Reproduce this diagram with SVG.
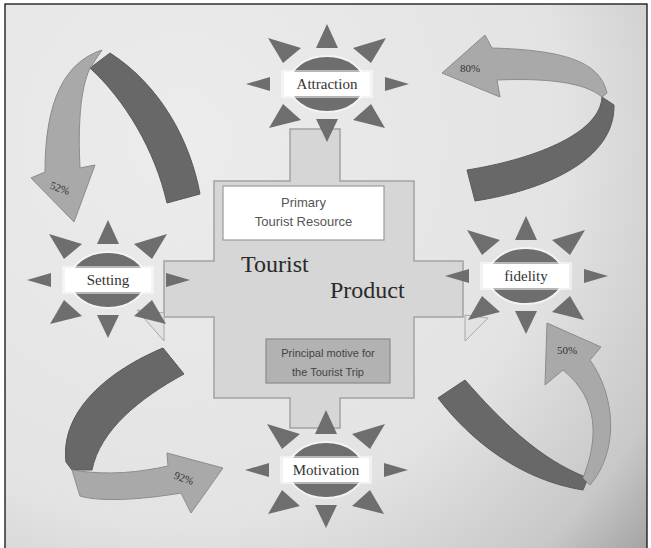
<svg xmlns="http://www.w3.org/2000/svg" xmlns:xlink="http://www.w3.org/1999/xlink" width="651" height="548" viewBox="0 0 651 548">
<style>
.sunlabel{font-family:"Liberation Serif","Times New Roman",serif;font-size:15px;fill:#333;text-anchor:middle}
.pct{font-family:"Liberation Serif","Times New Roman",serif;font-size:11px;fill:#333;text-anchor:middle}
.box{font-family:"Liberation Sans",Arial,sans-serif;text-anchor:middle}
.dark{fill:#686868;stroke:#5a5a5a;stroke-width:1}
.light{fill:#a9a9a9;stroke:#8c8c8c;stroke-width:1}
.big{font-family:"Liberation Serif","Times New Roman",serif;font-size:24px;fill:#2a2a2a}
</style>
<defs>
<radialGradient id="bg" cx="180" cy="140" r="640" gradientUnits="userSpaceOnUse">
<stop offset="0" stop-color="#ececec"/>
<stop offset="0.6" stop-color="#e3e3e3"/>
<stop offset="0.85" stop-color="#c8c8c8"/>
<stop offset="1" stop-color="#9a9a9a"/>
</radialGradient>
<g id="sun">
<g fill="#6e6e6e">
<polygon points="0,-60 -11,-36 11,-36"/>
<polygon points="0,58 -11,35 11,35"/>
<polygon points="-81,0 -57,-7 -57,7"/>
<polygon points="82,0 58,-7 58,7"/>
<polygon points="-59,-46 -26,-36 -44,-21"/>
<polygon points="59,-46 26,-36 44,-21"/>
<polygon points="-58,44 -26,36 -44,20"/>
<polygon points="58,44 26,36 44,20"/>
</g>
<ellipse cx="0" cy="0" rx="38" ry="28" fill="#6e6e6e" stroke="#f4f4f4" stroke-width="2"/>
<rect x="-46" y="-14" width="92" height="28" fill="#ffffff" opacity="0.5"/>
<rect x="-43" y="-12" width="86" height="24" fill="#ffffff"/>
</g>
</defs>
<rect x="0" y="0" width="651" height="548" fill="#ffffff"/>
<rect x="5" y="4" width="642" height="548" fill="url(#bg)" stroke="#111" stroke-width="1.3"/>

<g id="product">
<path d="M290,129 H340 V181 H414 V261 H463 V317 H414 V398 H340 V428 H290 V398 H214 V317 H164 V261 H214 V181 H290 Z" fill="#d6d6d6" stroke="#a2a2a2" stroke-width="1.5"/>
<text class="big" x="241" y="272">Tourist</text>
<text class="big" x="330" y="298">Product</text>
</g>

<g id="primary">
<rect x="223" y="186" width="161" height="54" fill="#ffffff" stroke="#9a9a9a" stroke-width="1.2"/>
<text class="box" x="303.5" y="207" font-size="13" fill="#555">Primary</text>
<text class="box" x="303.5" y="226" font-size="13" fill="#555">Tourist Resource</text>
</g>

<g id="motive">
<rect x="266" y="339" width="124" height="44" fill="#b2b2b2" stroke="#8a8a8a" stroke-width="1.2"/>
<text class="box" x="328" y="357" font-size="11" fill="#444">Principal motive for</text>
<text class="box" x="328" y="376" font-size="11" fill="#444">the Tourist Trip</text>
</g>

<g id="faint">
<polygon points="137,310 164,313 164,341" fill="#e2e2e2" stroke="#a8a8a8" stroke-width="1"/>
<polygon points="465,315 465,341 488,318" fill="#e2e2e2" stroke="#a8a8a8" stroke-width="1"/>
</g>

<g id="connectors">
<g id="arrow-52">
<path class="dark" d="M90,68 C125,100 155,150 167,203 L200,194 C190,140 160,85 110,53 Z"/>
<path class="light" d="M102,50 C65,62 45,100 45,172 L31,178 L74,222 L95,165 L80,168 C78,125 80,90 90,68 Z"/>
<text class="pct" x="60" y="192" transform="rotate(20 60 188)">52%</text>
</g>
<g id="arrow-80">
<path class="dark" d="M467,170 C530,160 600,135 602,97 L614,105 C615,160 545,190 475,201 Z"/>
<path class="light" d="M607,93 C600,60 560,50 492,48 L485,35 L442,73 L500,97 L497,80 C545,78 585,82 602,97 Z"/>
<text class="pct" x="470" y="72">80%</text>
</g>
<g id="arrow-92">
<path class="dark" d="M163,348 C110,370 60,410 66,462 L72,470 L92,470 C100,430 140,398 184,374 Z"/>
<path class="light" d="M72,470 C110,476 140,472 168,466 L167,453 L223,468 L191,513 L181,493 C140,500 100,502 80,496 Z"/>
<text class="pct" x="184" y="482" transform="rotate(20 184 478)">92%</text>
</g>
<g id="arrow-50">
<path class="dark" d="M438,398 C470,440 520,480 583,490 L588,478 C540,460 500,420 465,380 Z"/>
<path class="light" d="M583,478 C598,440 600,400 563,370 L545,385 L547,323 L601,347 L590,360 C615,395 620,450 590,485 Z"/>
<text class="pct" x="567" y="354">50%</text>
</g>
</g>

<g id="attraction">
<use xlink:href="#sun" x="327" y="84"/>
<text class="sunlabel" x="327" y="89">Attraction</text>
</g>
<g id="setting">
<use xlink:href="#sun" x="108" y="280"/>
<text class="sunlabel" x="108" y="285">Setting</text>
</g>
<g id="fidelity">
<use xlink:href="#sun" x="526" y="276"/>
<text class="sunlabel" x="526" y="281">fidelity</text>
</g>
<g id="motivation">
<use xlink:href="#sun" x="326" y="470"/>
<text class="sunlabel" x="326" y="475">Motivation</text>
</g>
</svg>
